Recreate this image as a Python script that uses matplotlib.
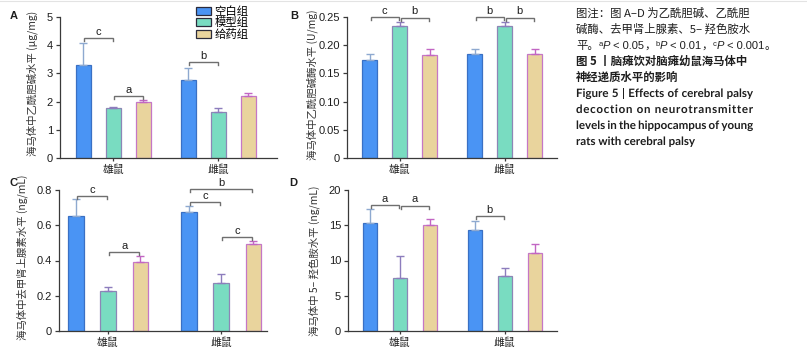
import matplotlib
matplotlib.use('Agg')
import matplotlib.pyplot as plt
from matplotlib.patches import Patch, PathPatch
from matplotlib.lines import Line2D
from matplotlib.font_manager import findfont, FontProperties
from matplotlib.ft2font import FT2Font
from matplotlib.textpath import TextPath
from matplotlib.transforms import Affine2D

plt.rcParams['font.family'] = ['Noto Sans CJK SC', 'DejaVu Sans']

W, H = 807, 358

# ---------------- data ----------------
groups = ['空白组', '模型组', '给药组']
sexes = ['雄鼠', '雌鼠']

# order: 雄鼠 (空白, 模型, 给药), 雌鼠 (空白, 模型, 给药)
a_mean = [3.29, 1.79, 2.00, 2.76, 1.62, 2.19]
a_err = [0.79, 0.03, 0.05, 0.43, 0.17, 0.10]
b_mean = [0.1734, 0.2340, 0.1835, 0.1850, 0.2346, 0.1847]
b_err = [0.0106, 0.0070, 0.0105, 0.0090, 0.0066, 0.0093]
c_mean = [0.650, 0.229, 0.394, 0.673, 0.275, 0.491]
c_err = [0.097, 0.023, 0.034, 0.034, 0.051, 0.019]
d_mean = [15.26, 7.58, 15.10, 14.31, 7.87, 11.04]
d_err = [2.04, 3.02, 0.78, 1.33, 1.13, 1.23]

# significance brackets: (bar i, bar j, height, letter)
a_sig = [(0, 1, 4.25, 'c'), (1, 2, 2.20, 'a'), (3, 4, 3.40, 'b')]
b_sig = [(0, 1, 0.250, 'c'), (1, 2, 0.249, 'b'), (3, 4, 0.250, 'b'), (4, 5, 0.249, 'b')]
c_sig = [(0, 1, 0.768, 'c'), (1, 2, 0.449, 'a'), (3, 5, 0.806, 'b'), (3, 4, 0.734, 'c'), (4, 5, 0.535, 'c')]
d_sig = [(0, 1, 17.87, 'a'), (1, 2, 17.80, 'a'), (3, 4, 16.30, 'b')]

a_ylabel = '海马体中乙酰胆碱水平 (μg/mg)'
b_ylabel = '海马体中乙酰胆碱酶水平 (U/mg)'
c_ylabel = '海马体中去甲肾上腺素水平 (ng/mL)'
d_ylabel = '海马体中 5– 羟色胺水平 (ng/mL)'

a_ticks = [0, 1, 2, 3, 4, 5]
b_ticks = [0, 0.05, 0.10, 0.15, 0.20, 0.25]
b_ticklabels = ['0', '0.05', '0.10', '0.15', '0.20', '0.25']
c_ticks = [0, 0.2, 0.4, 0.6, 0.8]
c_ticklabels = ['0', '0.2', '0.4', '0.6', '0.8']
d_ticks = [0, 5, 10, 15, 20]

# ---------------- style ----------------
face = ['#4a94f4', '#79dcc1', '#e9d49d']
edge = ['#3a70c4', '#8c86b6', '#c577c6']
ecol = ['#8ea9d0', '#8d7dbd', '#c266c4']
spine_c = '#3a3a3a'
br_c = '#6f6f6f'
txt_c = '#1e1e1e'

fig = plt.figure(figsize=(W / 100, H / 100), dpi=100)
fig.patch.set_facecolor('white')


def px_axes(l, t, r, b):
    return fig.add_axes([l / W, 1 - b / H, (r - l) / W, (b - t) / H])


def xpos(k):
    return (k // 3) * 3.5 + (k % 3)


def panel(ax, means, errs, sig, ylim, ticks, ticklabels, ylabel, xlim,
          width, lab_x, lab_y):
    xs = [xpos(k) for k in range(len(means))]
    for k, (x, m, e) in enumerate(zip(xs, means, errs)):
        g = k % 3
        ax.bar(x, m, width=width, color=face[g], edgecolor=edge[g],
               linewidth=0.9, zorder=2)
        ax.errorbar(x, m, yerr=[[0], [e]], fmt='none', ecolor=ecol[g],
                    elinewidth=1.0, capsize=2.6, capthick=1.0, zorder=3)
    drop = (ylim[1] - ylim[0]) * 0.022
    for i, j, y, s in sig:
        x1, x2 = xpos(i) + 0.03, xpos(j) - 0.03
        ax.plot([x1, x1, x2, x2], [y - drop, y, y, y - drop], color=br_c,
                lw=1.0, clip_on=False, zorder=4, solid_joinstyle='miter')
        ax.annotate(s, ((x1 + x2) / 2, y), xytext=(0, 0.8),
                    textcoords='offset points', ha='center', va='bottom',
                    fontsize=8, color=txt_c, family='Liberation Sans',
                    annotation_clip=False)
    ax.set_xlim(*xlim)
    ax.set_ylim(*ylim)
    ax.set_yticks(ticks)
    ax.set_yticklabels(ticklabels, family='Liberation Sans', fontsize=8,
                       color=txt_c)
    ax.set_xticks([xpos(1), xpos(4)])
    ax.set_xticklabels(sexes, fontsize=7.8, color=txt_c)
    for sp in ['top', 'right']:
        ax.spines[sp].set_visible(False)
    for sp in ['left', 'bottom']:
        ax.spines[sp].set_color(spine_c)
        ax.spines[sp].set_linewidth(0.9)
    ax.tick_params(axis='y', length=3, width=0.9, color=spine_c, pad=2)
    ax.tick_params(axis='x', length=2.5, width=0.9, color=spine_c, pad=2)
    ax.set_ylabel(ylabel, fontsize=7.5, color='#333333')
    ax.yaxis.set_label_coords(lab_x, lab_y)


axA = px_axes(60, 17, 277, 158)
panel(axA, a_mean, a_err, a_sig, (0, 5), a_ticks, [str(t) for t in a_ticks],
      a_ylabel, (-0.78, 6.45), 0.49, -0.101, 0.53)
axB = px_axes(347, 17, 557, 158)
panel(axB, b_mean, b_err, b_sig, (0, 0.25), b_ticks, b_ticklabels,
      b_ylabel, (-0.76, 6.24), 0.5, -0.138, 0.52)
axC = px_axes(59, 190, 267, 331)
panel(axC, c_mean, c_err, c_sig, (0, 0.8), c_ticks, c_ticklabels,
      c_ylabel, (-0.52, 5.92), 0.48, -0.149, 0.52)
axD = px_axes(348, 190, 557, 331)
panel(axD, d_mean, d_err, d_sig, (0, 20), d_ticks, [str(t) for t in d_ticks],
      d_ylabel, (-0.73, 6.24), 0.47, -0.134, 0.50)

# panel letters
for lx, ly, s in [(10, 16, 'A'), (290, 16, 'B'), (9, 183, 'C'), (289, 183, 'D')]:
    fig.text(lx / W, 1 - ly / H, s, fontsize=8, weight='bold',
             family='Liberation Sans', color=txt_c, va='center', ha='left')

# legend
handles = [Patch(facecolor=face[g], edgecolor='#2b2b3b', linewidth=0.9)
           for g in range(3)]
fig.legend(handles, groups, loc='upper left',
           bbox_to_anchor=(196 / W, 1 - 6 / H), bbox_transform=fig.transFigure,
           frameon=False, fontsize=8.2, handlelength=1.3, handleheight=0.7,
           handletextpad=0.3, labelspacing=0.05, borderpad=0, borderaxespad=0)

# thin top rule
fig.add_artist(Line2D([0, 1], [1 - 0.6 / H, 1 - 0.6 / H], color='#e3e3e3',
                      lw=0.8, transform=fig.transFigure))

# ---------------- caption ----------------
renderer = fig.canvas.get_renderer()
cap_x0, cap_w = 576, 177


def put(x, y, s, **kw):
    t = fig.text(x / W, 1 - y / H, s, va='baseline', ha='left', color=txt_c,
                 **kw)
    return t.get_window_extent(renderer).width


EN_FP = FontProperties(family='Lato', weight='bold')
EN_SIZE = 8.3
_font = FT2Font(findfont(EN_FP))
_font.set_size(EN_SIZE, 100)
EN_PX = EN_SIZE * 100 / 72.0


def adv(c):
    return _font.load_char(ord(c)).linearHoriAdvance / 65536.0


def glyph(x, y, s):
    p = TextPath((0, 0), s, size=EN_PX, prop=EN_FP)
    fig.add_artist(PathPatch(p, transform=Affine2D().translate(x, H - y),
                             facecolor=txt_c, edgecolor='none', lw=0))
    return p


def justify_words(y, words):
    paths = [TextPath((0, 0), w, size=EN_PX, prop=EN_FP) for w in words]
    widths = [sum(adv(c) for c in w) for w in words]
    natural = sum(widths[:-1]) + paths[-1].get_extents().x1
    gap = (cap_w - natural) / (len(words) - 1)
    x = cap_x0
    for w, wd in zip(words, widths):
        glyph(x, y, w)
        x += wd + gap


def justify_letters(y, text):
    # letter-spaced justification (as in the reference's 2nd English line)
    advs = [adv(c) for c in text]
    last = TextPath((0, 0), text[-1], size=EN_PX, prop=EN_FP)
    natural = sum(advs[:-1]) + last.get_extents().x1
    extra = (cap_w - natural) / (len(text) - 1)
    x = cap_x0
    for c, a in zip(text, advs):
        if c != ' ':
            glyph(x, y, c)
        x += a + extra


zh = dict(fontsize=8.2)
put(cap_x0, 17, '图注：图 A–D 为乙酰胆碱、乙酰胆', **zh)
put(cap_x0, 33, '碱酶、去甲肾上腺素、5– 羟色胺水', **zh)
sup = dict(fontsize=5.5, family='Liberation Sans')
itp = dict(fontsize=8, family='Liberation Sans', style='italic')
num = dict(fontsize=8, family='Liberation Sans')
x = cap_x0
y3 = 49
for s, kw, dy in [('平。', zh, 0), ('a', sup, -3.5), ('P', itp, 0),
                  (' < 0.05，', num, 0), ('b', sup, -3.5), ('P', itp, 0),
                  (' < 0.01，', num, 0), ('c', sup, -3.5), ('P', itp, 0),
                  (' < 0.001', num, 0), ('。', zh, 0)]:
    if s.endswith('，'):
        x += put(x, y3, s[:-1], **kw)
        x += put(x, y3, '，', **zh)
    else:
        x += put(x, y3 + dy, s, **kw)

zhb = dict(fontsize=8.2, weight='bold')
put(cap_x0, 65, '图 5 丨脑瘫饮对脑瘫幼鼠海马体中', **zhb)
put(cap_x0, 81, '神经递质水平的影响', **zhb)

justify_words(97, ['Figure', '5', '|', 'Effects', 'of', 'cerebral', 'palsy'])
justify_letters(113, 'decoction on neurotransmitter')
justify_words(129, ['levels', 'in', 'the', 'hippocampus', 'of', 'young'])
glyph(cap_x0, 145, 'rats with cerebral palsy')

fig.savefig('out.png', dpi=100, facecolor='white')
